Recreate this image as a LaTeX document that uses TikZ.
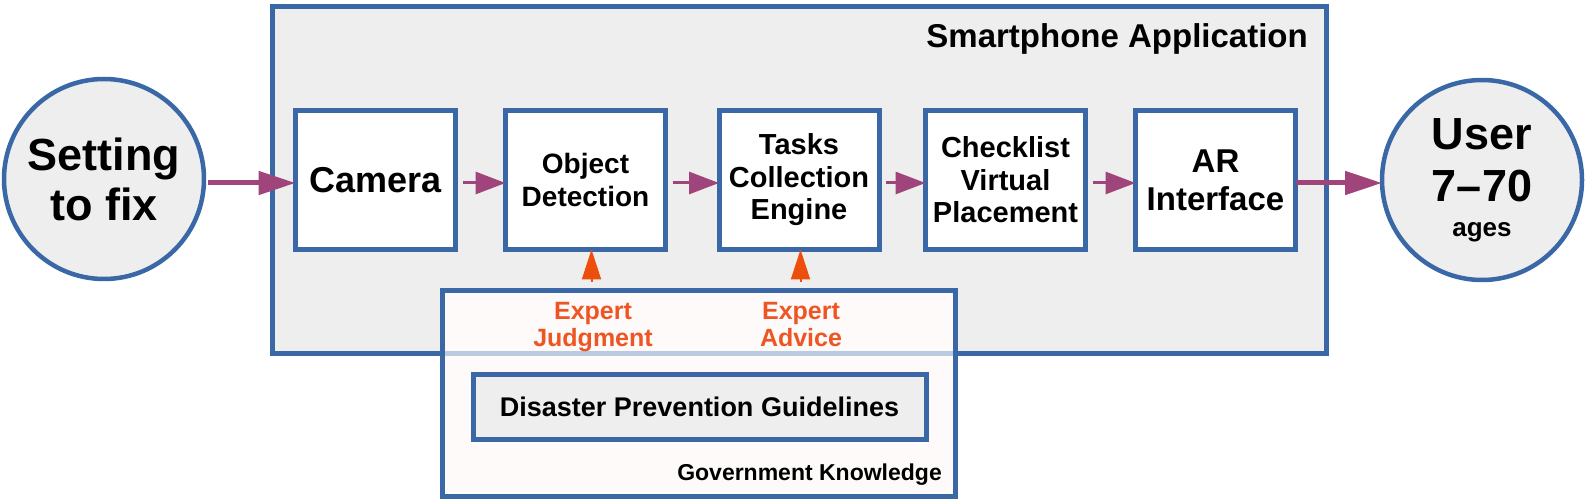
\documentclass[tikz,border=0pt]{standalone}
\usepackage{fontspec}
\setmainfont{Liberation Sans}
\usetikzlibrary{arrows.meta}
\definecolor{bl}{HTML}{3A68A6}
\definecolor{gr}{HTML}{EEEEEE}
\definecolor{pk}{HTML}{FDFAF9}
\definecolor{pu}{HTML}{A0457B}
\definecolor{orA}{HTML}{EE4E0C}
\definecolor{orT}{HTML}{EE5522}
\newcommand\fsz[2]{\fontsize{#1}{#2}\selectfont}
\begin{document}
\begin{tikzpicture}[x=1pt,y=-1pt,
  blk/.style={draw=bl, line width=5pt, fill=white, minimum width=160pt, minimum height=139pt, inner sep=0pt, outer sep=0pt, align=center},
  circ/.style={circle, draw=bl, line width=4.5pt, fill=gr, minimum size=200pt, inner sep=0pt, outer sep=0pt, align=center},
  frame/.style={draw=bl, line width=5pt, inner sep=0pt, outer sep=0pt},
  parrS/.style={draw=pu, line width=3pt, -{Triangle[length=30pt,width=22pt]}},
  parrB/.style={draw=pu, line width=5pt, -{Triangle[length=37pt,width=23pt]}},
  oarr/.style={draw=orA, line width=2pt, -{Triangle[length=30pt,width=19pt]}},
  otext/.style={text=orT, align=center, inner sep=0pt, font=\bfseries\fsz{25}{27}}
]
\useasboundingbox (0,0) rectangle (1587,502);
% application frame
\node[frame, fill=gr, minimum width=1054pt, minimum height=347pt] (app) at (799.5,180) {};
\node[anchor=base east, inner sep=0pt, font=\bfseries\fsz{33}{38}] (appl) at (1308,48) {Smartphone Application};
% pipeline boxes
\node[blk, font=\bfseries\fsz{36}{40}] (cam) at (375.5,180) {Camera};
\node[blk, font=\bfseries\fsz{28}{33}] (od) at (585.5,180) {Object\\Detection};
\node[blk, font=\bfseries\fsz{29}{32.5}] (tce) at (799,180) {Tasks\\Collection\\Engine};
\node[blk, font=\bfseries\fsz{29}{32.5}] (cvp) at (1005.5,180) {Checklist\\Virtual\\Placement};
\node[blk, font=\bfseries\fsz{33}{38}] (ar) at (1215.5,180) {AR\\Interface};
% circles
\node[circ, font=\bfseries\fsz{45}{50}] (set) at (104,179) {Setting\\to fix};
\node[circ, font=\bfseries\fsz{45}{52}] (usr) at (1482,180) {User\\7–70\\[-17pt]{\fsz{26}{31}ages}};
% government knowledge
\node[frame, fill=pk, minimum width=513pt, minimum height=206pt] (gov) at (699,393.5) {};
\draw[draw=bl!35, line width=5pt] ([xshift=2.5pt]gov.west |- app.south) -- ([xshift=-2.5pt]gov.east |- app.south);
\node[frame, fill=gr, minimum width=453pt, minimum height=65pt, font=\bfseries\fsz{27}{30}] (dpg) at (699.5,407) {Disaster Prevention Guidelines};
\node[anchor=base east, inner sep=0pt, font=\bfseries\fsz{23}{27}] (govl) at (942,480) {Government Knowledge};
\node[otext] (ej) at (593,327) {Expert\\Judgment};
\node[otext] (ea) at (801,327) {Expert\\Advice\vphantom{g}};
% arrows
\draw[parrB] ([yshift=-4pt,xshift=4pt]set.east) -- ([yshift=-3pt]cam.west);
\draw[parrS, shorten <=7pt] ([yshift=-3pt]cam.east) -- ([yshift=-3pt]od.west);
\draw[parrS, shorten <=7pt] ([yshift=-3pt]od.east) -- ([yshift=-3pt]tce.west);
\draw[parrS, shorten <=7pt] ([yshift=-3pt]tce.east) -- ([yshift=-3pt]cvp.west);
\draw[parrS, shorten <=7pt] ([yshift=-3pt]cvp.east) -- ([yshift=-3pt]ar.west);
\draw[parrB] ([yshift=-3pt]ar.east) -- ([yshift=-3pt]usr.west);
\coordinate (jb) at (591.5,282);
\coordinate (ab) at (800.5,282);
\draw[oarr] (jb) -- (jb |- od.south);
\draw[oarr] (ab) -- (ab |- tce.south);
\end{tikzpicture}
\end{document}
